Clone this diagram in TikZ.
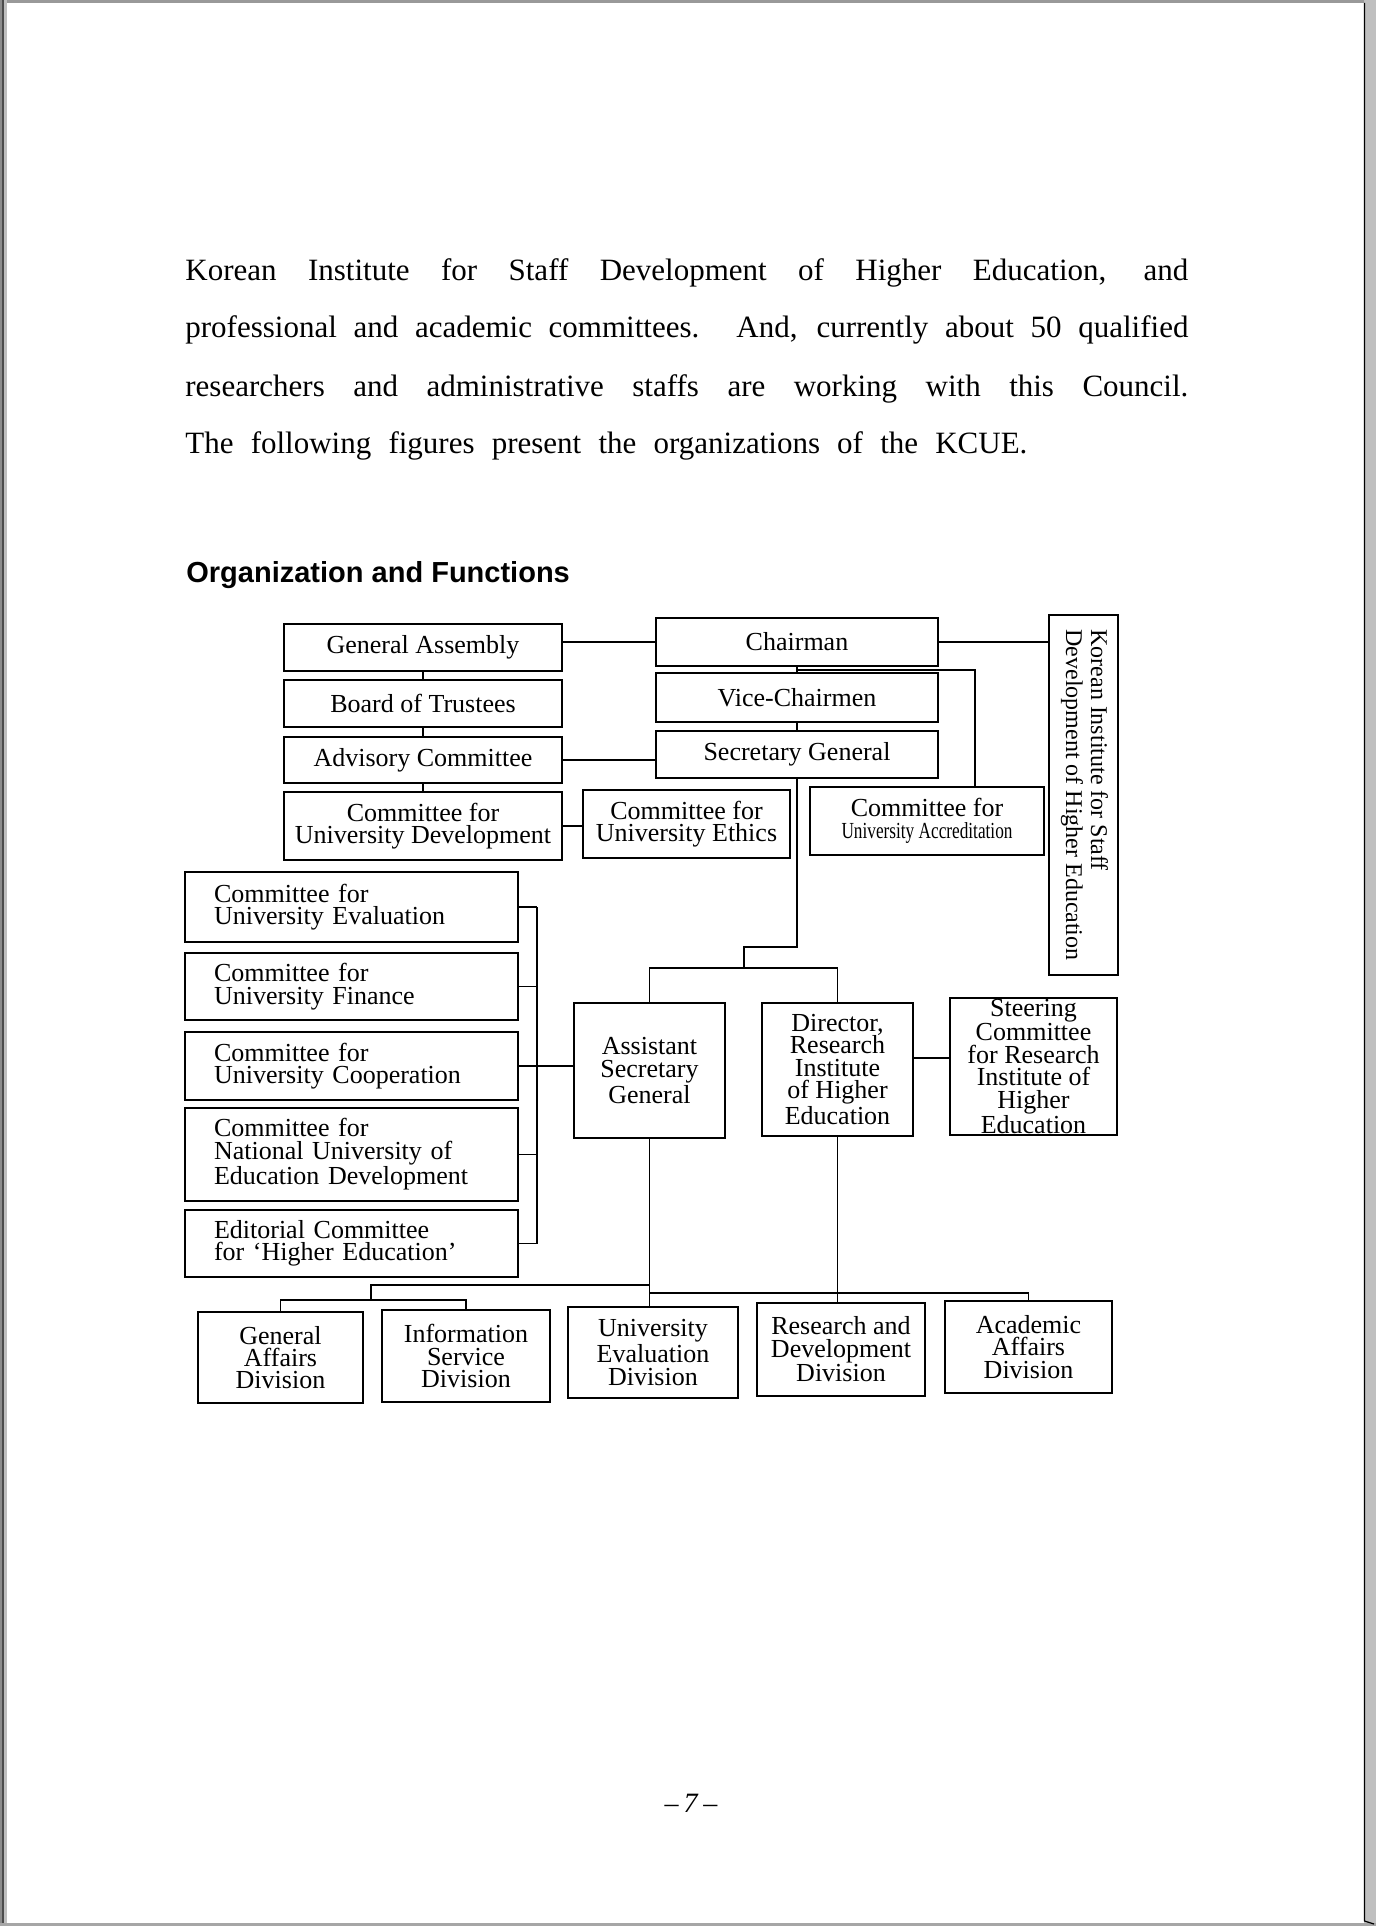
\documentclass[tikz,border=0pt]{standalone}
\usepackage{fontspec}
\setmainfont{Liberation Serif}
\setsansfont{Liberation Sans}
\usepackage{graphicx}
\newcommand{\orgbox}[7][]{\node[orgnode,#1,minimum width={(#5-#3)*0.5pt},minimum height={(#6-#4)*0.5pt}] (#2) at ({(#3+#5)/2},{(#4+#6)/2}) {#7};}
\tikzset{
  orgnode/.style={draw, line width=1pt, inner sep=0pt, align=center, font={\fontsize{13}{11.2}\selectfont}},
  leftnode/.style={align=left, text width=137.5pt},
  conn/.style={line width=0.85pt},
  bodytext/.style={anchor=base west, inner sep=0pt, font={\fontsize{15.5}{18}\selectfont}}
}
\begin{document}
\begin{tikzpicture}[x=0.5pt,y=-0.5pt]
\useasboundingbox (0,0) rectangle (1376,1926);
% page frame
\fill[white] (0,0) rectangle (1376,1926);
\fill[black!40] (0,0) rectangle (1376,3);
\fill[black!45] (0,0) rectangle (1.5,1926);
\fill[black!70] (1.5,0) rectangle (4,1926);
\fill[black!25] (4,0) rectangle (7,1926);
\fill[black!25] (1364,0) rectangle (1376,1926);
\fill[black!35] (0,1923) rectangle (1376,1926);
\draw[line width=0.6pt] (1364.5,3) -- (1364.5,1921) -- (1374,1924);

% running text
\node[bodytext] (t1) at (185,280) {\makebox[501.5pt][s]{Korean Institute for Staff Development of Higher Education, and}};
\node[bodytext] (t2) at (185,337.5) {\makebox[501.5pt][s]{professional and academic committees. And, currently about 50 qualified}};
\node[bodytext] (t3) at (185,396) {\makebox[501.5pt][s]{researchers and administrative staffs are working with this Council.}};
\node[bodytext] (t4) at (185,453) {\makebox[421pt][s]{The following figures present the organizations of the KCUE.}};
\node[anchor=base west, inner sep=0pt, font={\sffamily\bfseries\fontsize{14.5}{17}\selectfont}] (title) at (186,582) {Organization and Functions};

% boxes
\orgbox{ga}{284}{624}{562}{671}{General Assembly}
\orgbox{chair}{656}{618}{938}{666}{Chairman}
\orgbox{bot}{284}{680}{562}{727}{Board of Trustees}
\orgbox{vice}{656}{673}{938}{722}{Vice-Chairmen}
\orgbox{adv}{284}{737}{562}{783}{Advisory Committee}
\orgbox{sg}{656}{731}{938}{778}{Secretary General}
\orgbox{cud}{284}{792}{562}{860}{Committee for\\University Development}
\orgbox{eth}{583}{790}{790}{858}{Committee for\\University Ethics}
\orgbox{acc}{810}{787}{1044}{855}{Committee for\\\scalebox{0.75}[1]{\fontsize{11.5}{11}\selectfont University Accreditation}}
\node[orgnode, minimum width=34.5pt, minimum height=180pt] (korean) at (1083.5,795)
  {\rotatebox{-90}{\fontsize{12}{12.5}\selectfont\begin{tabular}{@{}l@{}}Korean Institute for Staff\\Development of Higher Education\end{tabular}}};

\orgbox[leftnode]{ceval}{185}{872}{518}{942}{Committee for\\University Evaluation}
\orgbox[leftnode]{cfin}{185}{953}{518}{1020}{Committee for\\University Finance}
\orgbox[leftnode]{ccoop}{185}{1032}{518}{1100}{Committee for\\University Cooperation}
\orgbox[leftnode]{cnat}{185}{1108}{518}{1201}{Committee for\\National University of\\Education Development}
\orgbox[leftnode]{cedit}{185}{1210}{518}{1277}{Editorial Committee\\for ‘Higher Education’}

\orgbox{asg}{574}{1003}{725}{1138}{Assistant\\Secretary\\General}
\orgbox{dir}{762}{1003}{913}{1136}{Director,\\Research\\Institute\\of Higher\\Education}
\orgbox{steer}{950}{998}{1117}{1135}{Steering\\Committee\\for Research\\Institute of\\Higher\\Education}

\orgbox{gaff}{198}{1312}{363}{1403}{General\\Affairs\\Division}
\orgbox{info}{382}{1310}{550}{1402}{Information\\Service\\Division}
\orgbox{uev}{568}{1307}{738}{1398}{University\\Evaluation\\Division}
\orgbox{rnd}{757}{1303}{925}{1396}{Research and\\Development\\Division}
\orgbox{aad}{945}{1301}{1112}{1393}{Academic\\Affairs\\Division}

% connectors
\begin{scope}[conn]
\draw (chair.west) -- (chair.west -| ga.east);
\draw (chair.east) -- (chair.east -| korean.west);
\draw (ga) -- (bot);
\draw (bot) -- (adv);
\draw (adv) -- (cud);
\draw (adv.east) -- (adv.east -| sg.west);
\draw (chair) -- (vice);
\draw (vice) -- (sg);
\coordinate (accj) at (975,670);
\draw (chair.south |- accj) -- (accj) -- (accj |- acc.north);
\draw (cud.east) -- (cud.east -| eth.west);
\coordinate (sgj) at (744,947);
\coordinate (mj) at (744,968);
\draw (sg.south) -- (sg.south |- sgj) -- (sgj) -- (mj);
\draw (asg.north) |- (mj) -| (dir.north);
\coordinate (busT) at (537,907);
\draw (ceval.east) -- (ceval.east -| busT);
\draw (cfin.east) -- (cfin.east -| busT);
\draw (cnat.east) -- (cnat.east -| busT);
\draw (cedit.east) -- (cedit.east -| busT);
\draw (busT) -- (busT |- cedit.east);
\draw (ccoop.east) -- (ccoop.east -| asg.west);
\draw ([yshift=5.75pt]dir.east) -- ([yshift=5.75pt]dir.east -| steer.west);
\draw (asg.south) -- (asg.south |- uev.north);
\coordinate (lg1) at (371,1285);
\coordinate (lg2) at (371,1300);
\draw (asg.south |- lg1) -- (lg1) -- (lg2);
\draw (gaff.north) |- (lg2) -| (info.north);
\coordinate (rg) at (1028,1293);
\draw (asg.south |- rg) -| (aad.north);
\draw (dir.south) -- (dir.south |- rnd.north);
\end{scope}

% page number
\node[anchor=base, inner sep=0pt, font={\fontsize{14}{16}\selectfont}] (pnum) at (691,1812) {–\kern2.5pt\textit{7}\kern2.5pt–};
\end{tikzpicture}
\end{document}
